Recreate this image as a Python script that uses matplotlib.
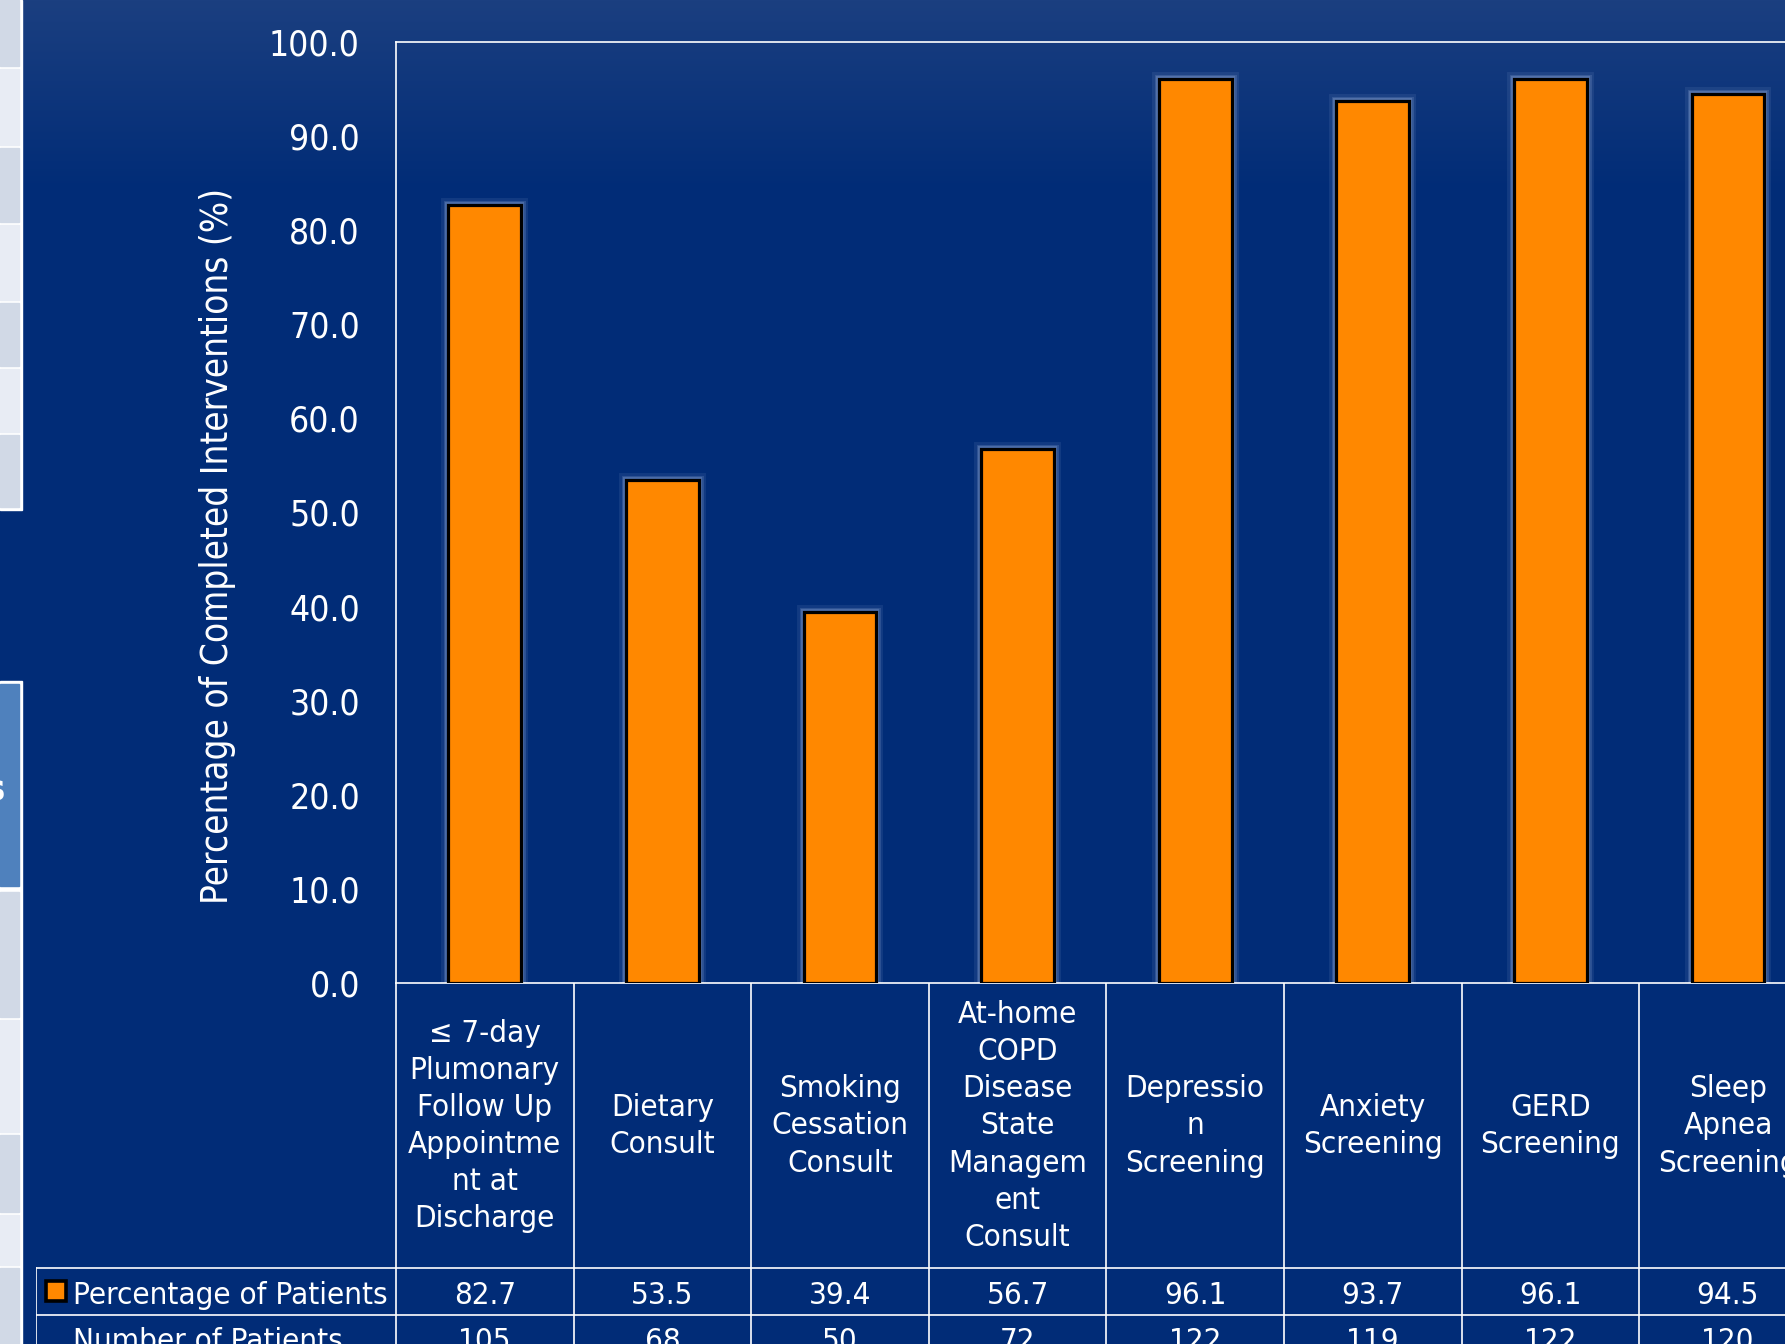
import numpy as np
import matplotlib.pyplot as plt
from matplotlib.patches import Rectangle

W, H = 1785, 1344

# chart data
categories = ['\u2264 7-day\nPlumonary\nFollow Up\nAppointme\nnt at\nDischarge',
              'Dietary\nConsult',
              'Smoking\nCessation\nConsult',
              'At-home\nCOPD\nDisease\nState\nManagem\nent\nConsult',
              'Depressio\nn\nScreening',
              'Anxiety\nScreening',
              'GERD\nScreening',
              'Sleep\nApnea\nScreening']
pct_patients = [82.7, 53.5, 39.4, 56.7, 96.1, 93.7, 96.1, 94.5]
num_patients = [105, 68, 50, 72, 122, 119, 122, 120]
y_ticks = np.arange(0, 101, 10)
row_labels = ['Percentage of Patients', 'Number of Patients']

BG = '#012C77'
ORANGE = '#FF8800'
STRIP_A = '#D1D9E6'
STRIP_B = '#E8ECF4'

plt.rcParams['font.family'] = 'DejaVu Sans'
plt.rcParams['font.stretch'] = 'condensed'


def fbox(x0, y0, x1, y1):
    # pixel box (top-left origin) -> figure fraction rect
    return [x0 / W, 1 - y1 / H, (x1 - x0) / W, (y1 - y0) / H]


fig = plt.figure(figsize=(W / 100, H / 100), dpi=100)

# slide background: gradient band at the top, flat blue below
bg = fig.add_axes([0, 0, 1, 1])
bg.set_xlim(0, W)
bg.set_ylim(H, 0)
bg.axis('off')
top = np.array([27, 63, 128]) / 255
base = np.array([1, 44, 119]) / 255
t = np.clip(np.arange(H) / 190.0, 0, 1)[:, None]
grad = (top * (1 - t) + base * t)[:, None, :]
bg.imshow(grad, extent=(0, W, H, 0), aspect='auto', zorder=0)

# thumbnail strip on the left edge of the slide
bg.add_patch(Rectangle((0, 0), 22, 510, color='white', zorder=1))
for y0, y1, c in [(0, 66, STRIP_A), (69, 145, STRIP_B), (148, 222, STRIP_A),
                  (225, 300, STRIP_B), (303, 366, STRIP_A), (369, 432, STRIP_B),
                  (435, 507, STRIP_A)]:
    bg.add_patch(Rectangle((0, y0), 19, y1 - y0, color=c, zorder=2))
bg.add_patch(Rectangle((0, 681), 22, H - 681, color='white', zorder=1))
bg.add_patch(Rectangle((0, 684), 19, 202, color='#4F81BD', zorder=2))
for y0, y1, c in [(892, 1017, STRIP_A), (1020, 1132, STRIP_B), (1135, 1212, STRIP_A),
                  (1215, 1265, STRIP_B), (1268, H, STRIP_A)]:
    bg.add_patch(Rectangle((0, y0), 19, y1 - y0, color=c, zorder=2))
bg.text(5, 790, 's', ha='right', va='center', color='white', fontsize=26,
        fontweight='bold', zorder=3)

# bar chart
col_w = 177.6
ax_l, ax_t, ax_b = 396, 42, 983
ax_r = ax_l + 8 * col_w
ax = fig.add_axes(fbox(ax_l, ax_t, ax_r, ax_b))
ax.set_facecolor('none')
x = np.arange(len(pct_patients))
for lw, a in [(10, 0.1), (6.5, 0.17), (4.5, 0.25)]:
    ax.bar(x, pct_patients, width=0.41, color='none', edgecolor='#A8BEE6',
           linewidth=lw, alpha=a, zorder=2)
ax.bar(x, pct_patients, width=0.41, color=ORANGE, edgecolor='black',
       linewidth=2.3, zorder=3)
ax.set_xlim(-0.5, 7.5)
ax.set_ylim(0, 100)
ax.set_yticks(y_ticks)
ax.set_yticklabels([f'{v:.1f}' for v in y_ticks])
ax.tick_params(axis='y', length=0, pad=26, labelsize=25.5, labelcolor='white')
ax.set_xticks([])
for s in ['left', 'top', 'bottom']:
    ax.spines[s].set_color('white')
    ax.spines[s].set_linewidth(1.2)
ax.spines['right'].set_visible(False)

fig.text(218 / W, 1 - 546 / H, 'Percentage of Completed Interventions (%)',
         rotation=90, ha='center', va='center', color='white', fontsize=26.5)

# data table under the chart
tab_l = 36
tab = fig.add_axes(fbox(tab_l, ax_b, ax_r, 1400))
x_lab = -0.5 - (ax_l - tab_l) / col_w
tab.set_xlim(x_lab, 7.5)
tab.set_ylim(1400, ax_b)
tab.axis('off')


def px2x(px):
    return -0.5 + (px - ax_l) / col_w


line_kw = dict(color='white', linewidth=1.2)
for k in range(9):
    tab.plot([k - 0.5, k - 0.5], [ax_b, 1400], **line_kw)
tab.plot([x_lab, x_lab], [1268, 1400], **line_kw)
for yy in [1268, 1315]:
    tab.plot([x_lab, 7.5], [yy, yy], **line_kw)

for i, lab in enumerate(categories):
    tab.text(i, 1126, lab, ha='center', va='center', color='white',
             fontsize=22.5, linespacing=1.35)
for i, v in enumerate(pct_patients):
    tab.text(i, 1292, f'{v:.1f}', ha='center', va='center_baseline',
             color='white', fontsize=22.5)
for i, v in enumerate(num_patients):
    tab.text(i, 1339, str(v), ha='center', va='center_baseline',
             color='white', fontsize=22.5)

tab.plot(px2x(56), 1291, marker='s', ms=15, mfc=ORANGE, mec='black', mew=2.6)
tab.text(px2x(73), 1292, row_labels[0], ha='left', va='center_baseline',
         color='white', fontsize=22.5)
tab.text(px2x(73), 1339, row_labels[1], ha='left', va='center_baseline',
         color='white', fontsize=22.5)

fig.savefig('out.png', dpi=100, facecolor=BG)
